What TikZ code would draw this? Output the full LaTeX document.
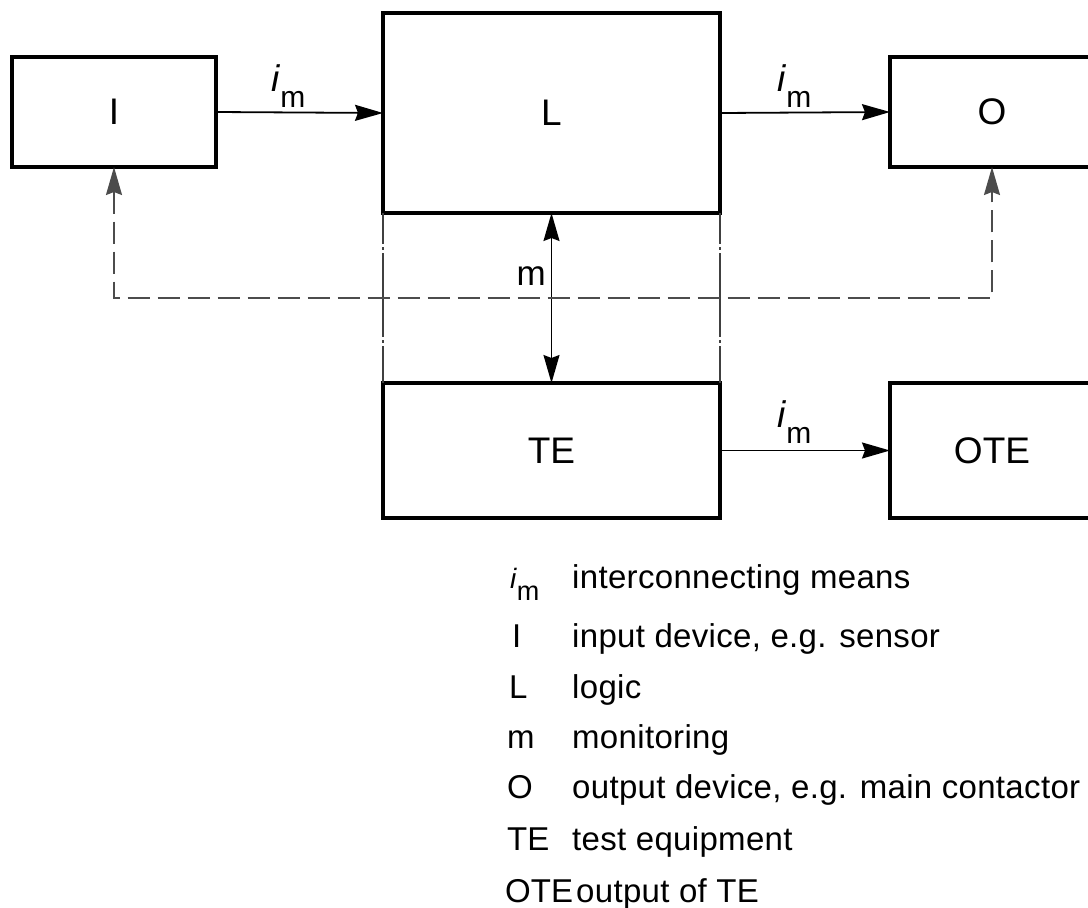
\documentclass[tikz,border=0pt]{standalone}
\usepackage{fontspec}
\setmainfont{Liberation Sans}
\usetikzlibrary{arrows.meta}
\newcommand\imdia{{\fontsize{37}{37}\selectfont\itshape i}\kern1pt\raisebox{-16pt}{\fontsize{30}{30}\selectfont m}}
\newcommand\imleg{{\fontsize{28}{28}\selectfont\itshape i}\kern0.5pt\raisebox{-12pt}{\fontsize{27}{27}\selectfont m}}
\begin{document}
\begin{tikzpicture}[x=1pt,y=-1pt,
  blk/.style={draw=black, line width=3.5pt, inner sep=0pt, outer sep=0pt, font=\fontsize{37}{37}\selectfont},
  conn/.style={line width=1.8pt, -{Stealth[length=28pt,width=16pt,inset=3pt]}},
  monarrow/.style={line width=1.5pt, {Stealth[length=28pt,width=16pt,inset=3pt]}-{Stealth[length=28pt,width=16pt,inset=3pt]}},
  dsh/.style={line width=1.7pt, draw=black!70, dash pattern=on 22pt off 8pt, {Stealth[length=28pt,width=16pt,inset=3pt]}-{Stealth[length=28pt,width=16pt,inset=3pt]}},
  phantomln/.style={line width=1.4pt, draw=black!75, dash pattern=on 84pt off 3pt on 3pt off 3pt, dash phase=53pt},
  lbl/.style={anchor=base west, inner sep=0pt},
  leg/.style={anchor=base west, inner sep=0pt, font=\fontsize{33}{33}\selectfont},
  legd/.style={anchor=base west, inner sep=0pt, font=\fontsize{33}{33}\selectfont\addfontfeature{LetterSpace=1}},
]
\useasboundingbox (0,0) rectangle (1088,908);
\begin{scope}
\clip (0,0) rectangle (1088,908);
% boxes
\node[blk, minimum width=204pt, minimum height=110pt] (I) at (114,112) {I};
\node[blk, minimum width=337pt, minimum height=200pt] (L) at (551.5,113) {L};
\node[blk, minimum width=204pt, minimum height=110pt] (O) at (992,112) {O};
\node[blk, minimum width=337pt, minimum height=135pt] (TE) at (551.5,450.5) {TE};
\node[blk, minimum width=204pt, minimum height=135pt] (OTE) at (992,450.5) {OTE};
% connectors
\draw[conn] (I.east) -- (L.west);
\draw[conn] (L.east) -- (O.west);
\draw[conn] (TE.east) -- (OTE.west);
\node[lbl] (im1) at (271,91) {\imdia};
\node[lbl] (im2) at (777,91) {\imdia};
\node[lbl] (im3) at (777,427) {\imdia};
% phantom lines
\draw[phantomln] (L.south west) -- (TE.north west);
\draw[phantomln] (L.south east) -- (TE.north east);
% monitoring
\draw[monarrow] (L.south) -- (TE.north);
\node[anchor=base east, inner sep=0pt, font=\fontsize{35}{35}\selectfont] (mlab) at (546,285) {m};
% dashed feedback
\coordinate (dl) at (114,298);
\coordinate (dr) at (992,298);
\draw[dsh] (I.south) -- (dl) -- (dr) -- (O.south);
\end{scope}
% legend
\node[lbl] (k1) at (510,588) {\imleg};
\node[legd] (d1) at (572,588) {interconnecting means};
\node[leg] (k2) at (512,647) {I};
\node[legd] (d2) at (572,647) {input device, e.g. sensor};
\node[leg] (k3) at (509,698) {L};
\node[legd] (d3) at (572,698) {logic};
\node[leg] (k4) at (507,748) {m};
\node[legd] (d4) at (572,748) {monitoring};
\node[leg] (k5) at (507,798) {O};
\node[legd] (d5) at (572,798) {output device, e.g. main contactor};
\node[leg] (k6) at (507,850) {TE};
\node[legd] (d6) at (572,850) {test equipment};
\node[leg] (k7) at (505,902) {OTE};
\node[legd] (d7) at (576,902) {output of TE};
\end{tikzpicture}
\end{document}
